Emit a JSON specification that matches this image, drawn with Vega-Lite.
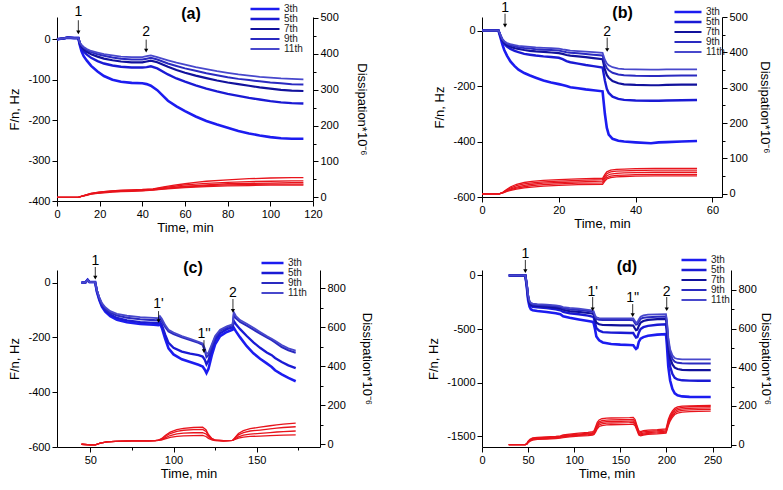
{
"$schema":"https://vega.github.io/schema/vega-lite/v6.json",
"padding":{"left":8,"top":0,"right":6,"bottom":0},
"config":{"view":{"stroke":null},"font":"Liberation Sans",
 "axis":{"grid":false,"domainColor":"#000","tickColor":"#000","labelColor":"#000","titleColor":"#000","labelFontSize":11,"titleFontSize":13,"titleFontWeight":"normal","labelOverlap":false,"labelFlush":false,"labelPadding":2,"domainWidth":1,"tickWidth":1,"labelFont":"Liberation Sans","titleFont":"Liberation Sans"},
 "legend":{"labelFont":"Liberation Sans"}},
"datasets":{
"a_f":[
{"t":0,"3th":0,"5th":0,"7th":0,"9th":0,"11th":0},
{"t":3,"3th":2,"5th":2,"7th":2,"9th":2,"11th":2},
{"t":5,"3th":4,"5th":4,"7th":4,"9th":4,"11th":4},
{"t":8,"3th":3,"5th":3,"7th":3,"9th":3,"11th":3},
{"t":10,"3th":3,"5th":3,"7th":3,"9th":3,"11th":3},
{"t":10.7,"3th":-15,"5th":-12,"7th":-10,"9th":-9,"11th":-8},
{"t":11.5,"3th":-30,"5th":-22,"7th":-18,"9th":-16,"11th":-14},
{"t":12.5,"3th":-42,"5th":-30,"7th":-24,"9th":-21,"11th":-19},
{"t":14,"3th":-53,"5th":-38,"7th":-31,"9th":-27,"11th":-24},
{"t":16,"3th":-66,"5th":-46,"7th":-37,"9th":-32,"11th":-29},
{"t":19,"3th":-80,"5th":-54,"7th":-43,"9th":-37,"11th":-33},
{"t":22,"3th":-91,"5th":-60,"7th":-48,"9th":-41,"11th":-37},
{"t":26,"3th":-100,"5th":-65,"7th":-52,"9th":-45,"11th":-40},
{"t":30,"3th":-105,"5th":-68,"7th":-55,"9th":-48,"11th":-43},
{"t":35,"3th":-108,"5th":-70,"7th":-57,"9th":-50,"11th":-44},
{"t":40,"3th":-109,"5th":-70,"7th":-57,"9th":-50,"11th":-44},
{"t":42,"3th":-111,"5th":-69,"7th":-55,"9th":-48,"11th":-42},
{"t":44,"3th":-115,"5th":-67,"7th":-53,"9th":-46,"11th":-40},
{"t":47,"3th":-126,"5th":-72,"7th":-57,"9th":-50,"11th":-44},
{"t":52,"3th":-152,"5th":-87,"7th":-68,"9th":-60,"11th":-52},
{"t":56,"3th":-166,"5th":-97,"7th":-76,"9th":-66,"11th":-58},
{"t":60,"3th":-178,"5th":-105,"7th":-83,"9th":-72,"11th":-63},
{"t":65,"3th":-191,"5th":-114,"7th":-90,"9th":-78,"11th":-69},
{"t":70,"3th":-202,"5th":-122,"7th":-96,"9th":-84,"11th":-74},
{"t":75,"3th":-211,"5th":-129,"7th":-102,"9th":-89,"11th":-79},
{"t":80,"3th":-219,"5th":-135,"7th":-107,"9th":-94,"11th":-83},
{"t":85,"3th":-227,"5th":-140,"7th":-111,"9th":-98,"11th":-87},
{"t":90,"3th":-233,"5th":-145,"7th":-115,"9th":-101,"11th":-90},
{"t":95,"3th":-238,"5th":-149,"7th":-119,"9th":-104,"11th":-93},
{"t":100,"3th":-242,"5th":-153,"7th":-122,"9th":-107,"11th":-95},
{"t":105,"3th":-245,"5th":-156,"7th":-125,"9th":-109,"11th":-97},
{"t":110,"3th":-246,"5th":-158,"7th":-127,"9th":-111,"11th":-98},
{"t":115.5,"3th":-246,"5th":-159,"7th":-128,"9th":-112,"11th":-99}
],
"a_d":[
{"t":0,"3th":0,"5th":0,"7th":0,"9th":0,"11th":0},
{"t":10,"3th":0,"5th":0,"7th":0,"9th":0,"11th":0},
{"t":11,"3th":2,"5th":2,"7th":2,"9th":2,"11th":2},
{"t":12.5,"3th":5,"5th":5,"7th":4,"9th":4,"11th":4},
{"t":14,"3th":8,"5th":8,"7th":7,"9th":7,"11th":6},
{"t":16,"3th":11,"5th":11,"7th":10,"9th":10,"11th":9},
{"t":19,"3th":14,"5th":14,"7th":13,"9th":12,"11th":11},
{"t":22,"3th":16,"5th":16,"7th":15,"9th":14,"11th":13},
{"t":26,"3th":18,"5th":18,"7th":17,"9th":16,"11th":15},
{"t":30,"3th":20,"5th":19,"7th":18,"9th":17,"11th":16},
{"t":35,"3th":21,"5th":20,"7th":19,"9th":18,"11th":17},
{"t":40,"3th":22,"5th":21,"7th":20,"9th":19,"11th":18},
{"t":45,"3th":24,"5th":23,"7th":22,"9th":21,"11th":20},
{"t":50,"3th":29,"5th":27,"7th":25,"9th":24,"11th":23},
{"t":55,"3th":34,"5th":31,"7th":28,"9th":27,"11th":25},
{"t":60,"3th":38,"5th":35,"7th":31,"9th":29,"11th":27},
{"t":65,"3th":42,"5th":37,"7th":33,"9th":31,"11th":29},
{"t":70,"3th":45,"5th":39,"7th":35,"9th":33,"11th":30},
{"t":80,"3th":49,"5th":42,"7th":38,"9th":35,"11th":32},
{"t":90,"3th":52,"5th":44,"7th":39,"9th":36,"11th":33},
{"t":100,"3th":54,"5th":45,"7th":40,"9th":37,"11th":34},
{"t":110,"3th":55,"5th":46,"7th":41,"9th":37,"11th":34},
{"t":115.5,"3th":55,"5th":46,"7th":41,"9th":37,"11th":34}
],
"b_f":[
{"t":0,"3th":0,"5th":0,"7th":0,"9th":0,"11th":0},
{"t":4.3,"3th":0,"5th":0,"7th":0,"9th":0,"11th":0},
{"t":4.8,"3th":-25,"5th":-20,"7th":-18,"9th":-16,"11th":-15},
{"t":5.3,"3th":-50,"5th":-38,"7th":-35,"9th":-32,"11th":-30},
{"t":5.8,"3th":-70,"5th":-48,"7th":-44,"9th":-41,"11th":-38},
{"t":6.5,"3th":-90,"5th":-58,"7th":-52,"9th":-48,"11th":-45},
{"t":7.4,"3th":-111,"5th":-66,"7th":-58,"9th":-53,"11th":-49},
{"t":8.5,"3th":-128,"5th":-73,"7th":-63,"9th":-57,"11th":-52},
{"t":9.5,"3th":-141,"5th":-78,"7th":-66,"9th":-60,"11th":-55},
{"t":11,"3th":-153,"5th":-84,"7th":-70,"9th":-63,"11th":-57},
{"t":12.5,"3th":-162,"5th":-87,"7th":-73,"9th":-65,"11th":-59},
{"t":14,"3th":-170,"5th":-90,"7th":-75,"9th":-67,"11th":-61},
{"t":16,"3th":-180,"5th":-93,"7th":-77,"9th":-69,"11th":-62},
{"t":18,"3th":-187,"5th":-95,"7th":-79,"9th":-70,"11th":-63},
{"t":20,"3th":-193,"5th":-98,"7th":-81,"9th":-72,"11th":-65},
{"t":21,"3th":-196,"5th":-103,"7th":-84,"9th":-75,"11th":-68},
{"t":22,"3th":-200,"5th":-110,"7th":-88,"9th":-78,"11th":-70},
{"t":23,"3th":-204,"5th":-114,"7th":-90,"9th":-80,"11th":-72},
{"t":25,"3th":-208,"5th":-119,"7th":-93,"9th":-82,"11th":-74},
{"t":27,"3th":-212,"5th":-124,"7th":-96,"9th":-84,"11th":-76},
{"t":29,"3th":-215,"5th":-128,"7th":-99,"9th":-87,"11th":-78},
{"t":31.4,"3th":-219,"5th":-133,"7th":-103,"9th":-90,"11th":-80},
{"t":32,"3th":-300,"5th":-180,"7th":-140,"9th":-120,"11th":-105},
{"t":32.5,"3th":-350,"5th":-210,"7th":-160,"9th":-135,"11th":-118},
{"t":33,"3th":-375,"5th":-225,"7th":-170,"9th":-143,"11th":-125},
{"t":34,"3th":-390,"5th":-238,"7th":-182,"9th":-152,"11th":-132},
{"t":35.5,"3th":-397,"5th":-246,"7th":-190,"9th":-158,"11th":-137},
{"t":37,"3th":-400,"5th":-250,"7th":-194,"9th":-161,"11th":-139},
{"t":40,"3th":-403,"5th":-252,"7th":-196,"9th":-163,"11th":-140},
{"t":44,"3th":-406,"5th":-253,"7th":-197,"9th":-164,"11th":-141},
{"t":46,"3th":-403,"5th":-253,"7th":-197,"9th":-164,"11th":-141},
{"t":48,"3th":-402,"5th":-252,"7th":-196,"9th":-163,"11th":-140},
{"t":52,"3th":-400,"5th":-251,"7th":-195,"9th":-162,"11th":-140},
{"t":56,"3th":-398,"5th":-250,"7th":-195,"9th":-162,"11th":-140}
],
"b_d":[
{"t":0,"3th":0,"5th":0,"7th":0,"9th":0,"11th":0},
{"t":4.5,"3th":0,"5th":0,"7th":0,"9th":0,"11th":0},
{"t":5.5,"3th":5,"5th":4,"7th":4,"9th":3,"11th":3},
{"t":6.5,"3th":13,"5th":11,"7th":9,"9th":8,"11th":7},
{"t":7.5,"3th":20,"5th":17,"7th":14,"9th":12,"11th":10},
{"t":9,"3th":27,"5th":23,"7th":19,"9th":16,"11th":13},
{"t":11,"3th":32,"5th":28,"7th":24,"9th":20,"11th":17},
{"t":13,"3th":35,"5th":31,"7th":27,"9th":23,"11th":19},
{"t":16,"3th":38,"5th":34,"7th":30,"9th":26,"11th":22},
{"t":20,"3th":40,"5th":36,"7th":32,"9th":28,"11th":24},
{"t":25,"3th":42,"5th":38,"7th":34,"9th":30,"11th":26},
{"t":31.4,"3th":44,"5th":40,"7th":36,"9th":31,"11th":27},
{"t":32,"3th":55,"5th":50,"7th":45,"9th":40,"11th":36},
{"t":32.5,"3th":62,"5th":57,"7th":51,"9th":46,"11th":42},
{"t":33.5,"3th":67,"5th":62,"7th":56,"9th":50,"11th":46},
{"t":35,"3th":69,"5th":64,"7th":58,"9th":52,"11th":48},
{"t":37,"3th":70,"5th":65,"7th":59,"9th":53,"11th":49},
{"t":40,"3th":71,"5th":66,"7th":60,"9th":54,"11th":50},
{"t":45,"3th":72,"5th":67,"7th":61,"9th":55,"11th":51},
{"t":56,"3th":72,"5th":67,"7th":61,"9th":55,"11th":51}
],
"c_f":[
{"t":44.7,"3th":0,"5th":0,"9th":0,"11th":0},
{"t":47,"3th":0,"5th":0,"9th":0,"11th":0},
{"t":48.4,"3th":10,"5th":10,"9th":10,"11th":10},
{"t":49.5,"3th":2,"5th":2,"9th":2,"11th":2},
{"t":52.9,"3th":2,"5th":2,"9th":2,"11th":2},
{"t":54,"3th":-34,"5th":-32,"9th":-30,"11th":-28},
{"t":55.5,"3th":-65,"5th":-62,"9th":-58,"11th":-55},
{"t":57,"3th":-88,"5th":-84,"9th":-79,"11th":-75},
{"t":59,"3th":-106,"5th":-101,"9th":-95,"11th":-90},
{"t":62,"3th":-123,"5th":-117,"9th":-110,"11th":-104},
{"t":66,"3th":-136,"5th":-129,"9th":-120,"11th":-114},
{"t":72,"3th":-145,"5th":-138,"9th":-128,"11th":-121},
{"t":80,"3th":-151,"5th":-144,"9th":-134,"11th":-126},
{"t":88,"3th":-154,"5th":-147,"9th":-137,"11th":-129},
{"t":90.9,"3th":-155,"5th":-148,"9th":-138,"11th":-130},
{"t":91.8,"3th":-150,"5th":-142,"9th":-130,"11th":-122},
{"t":93,"3th":-165,"5th":-155,"9th":-140,"11th":-132},
{"t":95,"3th":-205,"5th":-190,"9th":-162,"11th":-155},
{"t":97,"3th":-240,"5th":-220,"9th":-178,"11th":-172},
{"t":100,"3th":-262,"5th":-238,"9th":-188,"11th":-182},
{"t":105,"3th":-280,"5th":-252,"9th":-200,"11th":-195},
{"t":110,"3th":-290,"5th":-259,"9th":-210,"11th":-205},
{"t":115,"3th":-300,"5th":-265,"9th":-220,"11th":-216},
{"t":117.5,"3th":-306,"5th":-270,"9th":-227,"11th":-222},
{"t":118.8,"3th":-318,"5th":-282,"9th":-248,"11th":-240},
{"t":119.8,"3th":-330,"5th":-298,"9th":-272,"11th":-262},
{"t":121,"3th":-315,"5th":-285,"9th":-265,"11th":-255},
{"t":123,"3th":-265,"5th":-245,"9th":-232,"11th":-225},
{"t":125,"3th":-225,"5th":-210,"9th":-200,"11th":-195},
{"t":128,"3th":-195,"5th":-185,"9th":-176,"11th":-172},
{"t":132,"3th":-180,"5th":-170,"9th":-163,"11th":-160},
{"t":135.5,"3th":-172,"5th":-163,"9th":-156,"11th":-152},
{"t":136.2,"3th":-165,"5th":-140,"9th":-118,"11th":-108},
{"t":137.5,"3th":-178,"5th":-152,"9th":-130,"11th":-122},
{"t":140,"3th":-200,"5th":-170,"9th":-143,"11th":-137},
{"t":144,"3th":-232,"5th":-195,"9th":-157,"11th":-150},
{"t":148,"3th":-258,"5th":-218,"9th":-172,"11th":-165},
{"t":152,"3th":-278,"5th":-238,"9th":-186,"11th":-180},
{"t":156,"3th":-295,"5th":-255,"9th":-200,"11th":-195},
{"t":159,"3th":-308,"5th":-265,"9th":-210,"11th":-205},
{"t":161,"3th":-320,"5th":-275,"9th":-218,"11th":-212},
{"t":165,"3th":-335,"5th":-290,"9th":-235,"11th":-228},
{"t":169,"3th":-348,"5th":-302,"9th":-247,"11th":-240},
{"t":173.4,"3th":-360,"5th":-312,"9th":-256,"11th":-248}
],
"c_d":[
{"t":44.7,"3th":0,"5th":0,"9th":0,"11th":0},
{"t":50,"3th":-3,"5th":-3,"9th":-3,"11th":-3},
{"t":53,"3th":-3,"5th":-3,"9th":-3,"11th":-3},
{"t":56,"3th":6,"5th":6,"9th":6,"11th":6},
{"t":60,"3th":12,"5th":12,"9th":12,"11th":12},
{"t":65,"3th":15,"5th":15,"9th":15,"11th":15},
{"t":75,"3th":17,"5th":17,"9th":17,"11th":17},
{"t":85,"3th":18,"5th":18,"9th":18,"11th":18},
{"t":89,"3th":19,"5th":19,"9th":19,"11th":19},
{"t":91,"3th":22,"5th":21,"9th":20,"11th":20},
{"t":93,"3th":30,"5th":27,"9th":24,"11th":22},
{"t":95,"3th":45,"5th":40,"9th":33,"11th":28},
{"t":98,"3th":62,"5th":55,"9th":45,"11th":35},
{"t":102,"3th":75,"5th":66,"9th":53,"11th":40},
{"t":106,"3th":82,"5th":72,"9th":57,"11th":43},
{"t":112,"3th":86,"5th":75,"9th":59,"11th":44},
{"t":117.5,"3th":88,"5th":76,"9th":60,"11th":45},
{"t":119.5,"3th":75,"5th":66,"9th":53,"11th":40},
{"t":121,"3th":50,"5th":45,"9th":38,"11th":30},
{"t":123,"3th":30,"5th":28,"9th":25,"11th":22},
{"t":125,"3th":22,"5th":21,"9th":20,"11th":19},
{"t":130,"3th":18,"5th":18,"9th":18,"11th":18},
{"t":135.5,"3th":20,"5th":20,"9th":20,"11th":20},
{"t":137,"3th":35,"5th":32,"9th":28,"11th":25},
{"t":139,"3th":55,"5th":48,"9th":38,"11th":32},
{"t":142,"3th":70,"5th":60,"9th":47,"11th":37},
{"t":146,"3th":80,"5th":68,"9th":52,"11th":40},
{"t":152,"3th":88,"5th":73,"9th":56,"11th":42},
{"t":158,"3th":95,"5th":79,"9th":60,"11th":44},
{"t":162,"3th":100,"5th":83,"9th":63,"11th":46},
{"t":166,"3th":103,"5th":86,"9th":65,"11th":47},
{"t":173.4,"3th":108,"5th":90,"9th":68,"11th":48}
],
"d_f":[
{"t":29,"3th":0,"5th":0,"7th":0,"9th":0,"11th":0},
{"t":47,"3th":0,"5th":0,"7th":0,"9th":0,"11th":0},
{"t":48.5,"3th":-100,"5th":-90,"7th":-85,"9th":-80,"11th":-75},
{"t":50,"3th":-230,"5th":-210,"7th":-200,"9th":-190,"11th":-180},
{"t":51.5,"3th":-290,"5th":-265,"7th":-255,"9th":-245,"11th":-238},
{"t":53,"3th":-315,"5th":-285,"7th":-272,"9th":-262,"11th":-255},
{"t":55,"3th":-325,"5th":-293,"7th":-280,"9th":-270,"11th":-262},
{"t":60,"3th":-332,"5th":-298,"7th":-285,"9th":-275,"11th":-268},
{"t":70,"3th":-340,"5th":-305,"7th":-292,"9th":-280,"11th":-272},
{"t":80,"3th":-352,"5th":-315,"7th":-300,"9th":-288,"11th":-278},
{"t":85,"3th":-362,"5th":-325,"7th":-308,"9th":-295,"11th":-285},
{"t":88,"3th":-380,"5th":-340,"7th":-320,"9th":-305,"11th":-295},
{"t":95,"3th":-395,"5th":-352,"7th":-332,"9th":-315,"11th":-303},
{"t":105,"3th":-410,"5th":-362,"7th":-340,"9th":-322,"11th":-310},
{"t":115,"3th":-425,"5th":-375,"7th":-350,"9th":-332,"11th":-320},
{"t":119.5,"3th":-432,"5th":-383,"7th":-355,"9th":-337,"11th":-325},
{"t":121,"3th":-440,"5th":-390,"7th":-362,"9th":-345,"11th":-332},
{"t":122.5,"3th":-500,"5th":-440,"7th":-405,"9th":-385,"11th":-370},
{"t":124,"3th":-570,"5th":-490,"7th":-440,"9th":-405,"11th":-392},
{"t":127,"3th":-605,"5th":-515,"7th":-455,"9th":-414,"11th":-398},
{"t":131,"3th":-625,"5th":-528,"7th":-462,"9th":-416,"11th":-400},
{"t":140,"3th":-640,"5th":-533,"7th":-464,"9th":-416,"11th":-400},
{"t":150,"3th":-645,"5th":-535,"7th":-465,"9th":-416,"11th":-400},
{"t":160,"3th":-648,"5th":-536,"7th":-466,"9th":-416,"11th":-400},
{"t":164,"3th":-650,"5th":-537,"7th":-467,"9th":-417,"11th":-401},
{"t":165.5,"3th":-670,"5th":-560,"7th":-490,"9th":-440,"11th":-420},
{"t":167,"3th":-685,"5th":-580,"7th":-510,"9th":-458,"11th":-440},
{"t":168.5,"3th":-675,"5th":-575,"7th":-505,"9th":-455,"11th":-436},
{"t":170,"3th":-620,"5th":-535,"7th":-470,"9th":-430,"11th":-410},
{"t":172,"3th":-590,"5th":-500,"7th":-440,"9th":-405,"11th":-385},
{"t":175,"3th":-575,"5th":-482,"7th":-425,"9th":-395,"11th":-372},
{"t":180,"3th":-562,"5th":-470,"7th":-415,"9th":-390,"11th":-366},
{"t":190,"3th":-552,"5th":-460,"7th":-408,"9th":-386,"11th":-362},
{"t":199.5,"3th":-548,"5th":-456,"7th":-405,"9th":-384,"11th":-360},
{"t":200.5,"3th":-650,"5th":-540,"7th":-480,"9th":-450,"11th":-420},
{"t":202,"3th":-850,"5th":-720,"7th":-650,"9th":-610,"11th":-580},
{"t":204,"3th":-980,"5th":-850,"7th":-770,"9th":-720,"11th":-690},
{"t":206.5,"3th":-1060,"5th":-920,"7th":-830,"9th":-780,"11th":-745},
{"t":209,"3th":-1100,"5th":-955,"7th":-860,"9th":-805,"11th":-770},
{"t":212,"3th":-1118,"5th":-970,"7th":-873,"9th":-815,"11th":-779},
{"t":217,"3th":-1128,"5th":-978,"7th":-880,"9th":-819,"11th":-782},
{"t":225,"3th":-1132,"5th":-981,"7th":-882,"9th":-820,"11th":-783},
{"t":235,"3th":-1133,"5th":-982,"7th":-882,"9th":-820,"11th":-783},
{"t":248,"3th":-1133,"5th":-982,"7th":-882,"9th":-820,"11th":-783}
],
"d_d":[
{"t":29,"3th":0,"5th":0,"7th":0,"9th":0,"11th":0},
{"t":47,"3th":0,"5th":0,"7th":0,"9th":0,"11th":0},
{"t":48.5,"3th":5,"5th":4,"7th":4,"9th":3,"11th":3},
{"t":50,"3th":18,"5th":16,"7th":14,"9th":12,"11th":10},
{"t":52,"3th":28,"5th":25,"7th":22,"9th":20,"11th":18},
{"t":55,"3th":35,"5th":32,"7th":29,"9th":27,"11th":24},
{"t":60,"3th":38,"5th":35,"7th":32,"9th":30,"11th":27},
{"t":70,"3th":40,"5th":37,"7th":34,"9th":32,"11th":29},
{"t":80,"3th":43,"5th":40,"7th":37,"9th":35,"11th":32},
{"t":85,"3th":46,"5th":43,"7th":40,"9th":38,"11th":34},
{"t":88,"3th":50,"5th":46,"7th":43,"9th":40,"11th":36},
{"t":95,"3th":55,"5th":51,"7th":47,"9th":44,"11th":40},
{"t":105,"3th":60,"5th":55,"7th":51,"9th":48,"11th":44},
{"t":115,"3th":64,"5th":59,"7th":55,"9th":51,"11th":47},
{"t":120,"3th":68,"5th":62,"7th":58,"9th":54,"11th":50},
{"t":121.5,"3th":72,"5th":66,"7th":62,"9th":57,"11th":53},
{"t":123,"3th":90,"5th":82,"7th":76,"9th":70,"11th":64},
{"t":125,"3th":115,"5th":105,"7th":97,"9th":90,"11th":82},
{"t":127,"3th":128,"5th":118,"7th":110,"9th":102,"11th":94},
{"t":130,"3th":134,"5th":124,"7th":116,"9th":108,"11th":99},
{"t":135,"3th":137,"5th":127,"7th":119,"9th":111,"11th":102},
{"t":140,"3th":138,"5th":128,"7th":120,"9th":112,"11th":103},
{"t":150,"3th":139,"5th":129,"7th":121,"9th":113,"11th":104},
{"t":160,"3th":140,"5th":130,"7th":122,"9th":114,"11th":105},
{"t":164,"3th":141,"5th":131,"7th":123,"9th":115,"11th":106},
{"t":166,"3th":130,"5th":121,"7th":113,"9th":106,"11th":98},
{"t":168,"3th":100,"5th":93,"7th":87,"9th":81,"11th":75},
{"t":170,"3th":72,"5th":66,"7th":60,"9th":55,"11th":50},
{"t":172,"3th":68,"5th":62,"7th":56,"9th":51,"11th":46},
{"t":175,"3th":72,"5th":66,"7th":60,"9th":55,"11th":50},
{"t":180,"3th":75,"5th":69,"7th":63,"9th":58,"11th":53},
{"t":190,"3th":78,"5th":72,"7th":66,"9th":61,"11th":56},
{"t":199.5,"3th":82,"5th":76,"7th":70,"9th":65,"11th":60},
{"t":200.5,"3th":100,"5th":92,"7th":86,"9th":80,"11th":74},
{"t":202,"3th":130,"5th":120,"7th":112,"9th":105,"11th":98},
{"t":204,"3th":155,"5th":145,"7th":137,"9th":130,"11th":122},
{"t":206.5,"3th":175,"5th":166,"7th":158,"9th":150,"11th":142},
{"t":209,"3th":188,"5th":180,"7th":172,"9th":164,"11th":156},
{"t":212,"3th":195,"5th":188,"7th":180,"9th":172,"11th":163},
{"t":217,"3th":199,"5th":193,"7th":185,"9th":177,"11th":168},
{"t":225,"3th":201,"5th":196,"7th":188,"9th":180,"11th":171},
{"t":235,"3th":202,"5th":197,"7th":189,"9th":181,"11th":172},
{"t":248,"3th":203,"5th":198,"7th":190,"9th":182,"11th":173}
],
"ann":[
{"p":"a","lab":"1","t":10,"ty":67,"y1":47,"y2":17},
{"p":"a","lab":"2","t":41.8,"ty":17,"y1":-1,"y2":-28},
{"p":"b","lab":"1","t":6,"ty":83,"y1":61,"y2":18},
{"p":"b","lab":"2","t":32.6,"ty":-4,"y1":-25,"y2":-70},
{"p":"c","lab":"1","t":53,"ty":79,"y1":57,"y2":18},
{"p":"c","lab":"1'","t":91,"ty":-78,"y1":-104,"y2":-140},
{"p":"c","lab":"1''","t":118.3,"ty":-188,"y1":-210,"y2":-250},
{"p":"c","lab":"2","t":135.7,"ty":-38,"y1":-60,"y2":-103},
{"p":"d","lab":"1","t":47,"ty":201,"y1":145,"y2":40},
{"p":"d","lab":"1'","t":120,"ty":-154,"y1":-201,"y2":-315},
{"p":"d","lab":"1''","t":163.4,"ty":-211,"y1":-267,"y2":-370},
{"p":"d","lab":"2","t":200.3,"ty":-154,"y1":-201,"y2":-315}
],
"lbl":[
{"p":"a","lab":"(a)","t":62.8,"v":62},
{"p":"b","lab":"(b)","t":36.6,"v":63},
{"p":"c","lab":"(c)","t":111.7,"v":53},
{"p":"d","lab":"(d)","t":157.2,"v":79}
]
},
"columns":2,
"spacing":{"row":69,"column":162},
"bounds":"flush",
"resolve":{"scale":{"color":"independent","strokeWidth":"independent"},"legend":{"color":"independent","strokeWidth":"independent"}},
"concat":[
 {"width":256,"height":184,
  "layer":[
   {"layer":[
     {"data":{"name":"a_f"},"transform":[{"fold":["3th","5th","7th","9th","11th"],"as":["h","v"]}],
      "mark":{"type":"line"},
      "encoding":{
       "x":{"field":"t","type":"quantitative","scale":{"domain":[0,120],"nice":false,"zero":false},
            "axis":{"title":"Time, min","titlePadding":2,"values":[0,10,20,30,40,50,60,70,80,90,100,110,120],"labelExpr":"datum.value % 20 === 0 ? '' + datum.value : ''","tickSize":{"condition":{"test":"datum.value % 20 === 0","value":5},"value":3}}},
       "y":{"field":"v","type":"quantitative","scale":{"domain":[-400,55],"nice":false,"zero":false},
            "axis":{"title":"F/n, Hz","titlePadding":6,"values":[-400,-350,-300,-250,-200,-150,-100,-50,0,50],"labelExpr":"datum.value % 100 === 0 ? '' + datum.value : ''","tickSize":{"condition":{"test":"datum.value % 100 === 0","value":5},"value":3}}},
       "color":{"field":"h","type":"ordinal","scale":{"domain":["3th","5th","7th","9th","11th"],"range":["#1c1cf0","#1a1ad4","#11119c","#2a2ac0","#4848cc"]},
            "legend":{"orient":"none","legendX":192,"legendY":-13,"title":null,"symbolType":"stroke","symbolSize":841,"labelFontSize":10,"labelColor":"#222","clipHeight":10,"rowPadding":0,"labelOffset":3,"padding":0}},
       "strokeWidth":{"field":"h","type":"ordinal","scale":{"domain":["3th","5th","7th","9th","11th"],"range":[2.6,1.8,1.5,1.2,1]},
            "legend":{"orient":"none","legendX":192,"legendY":-13,"title":null,"symbolType":"stroke","symbolSize":841,"labelFontSize":10,"labelColor":"#222","clipHeight":10,"rowPadding":0,"labelOffset":3,"padding":0}}
      }},
     {"data":{"name":"ann"},"transform":[{"filter":"datum.p === 'a'"}],"mark":{"type":"rule","color":"#000","strokeWidth":0.8},
      "encoding":{"x":{"field":"t","type":"quantitative"},"y":{"field":"y1","type":"quantitative"},"y2":{"field":"y2"}}},
     {"data":{"name":"ann"},"transform":[{"filter":"datum.p === 'a'"}],"mark":{"type":"point","shape":"triangle-down","filled":true,"color":"#000","size":18,"opacity":1},
      "encoding":{"x":{"field":"t","type":"quantitative"},"y":{"field":"y2","type":"quantitative"}}},
     {"data":{"name":"ann"},"transform":[{"filter":"datum.p === 'a'"}],"mark":{"type":"text","fontSize":14,"baseline":"middle","align":"center","color":"#000"},
      "encoding":{"x":{"field":"t","type":"quantitative"},"y":{"field":"ty","type":"quantitative"},"text":{"field":"lab"}}},
     {"data":{"name":"lbl"},"transform":[{"filter":"datum.p === 'a'"}],"mark":{"type":"text","fontSize":16,"fontWeight":"bold","baseline":"middle","align":"center","color":"#000"},
      "encoding":{"x":{"field":"t","type":"quantitative"},"y":{"field":"v","type":"quantitative"},"text":{"field":"lab"}}}
   ]},
   {"data":{"name":"a_d"},"transform":[{"fold":["3th","5th","7th","9th","11th"],"as":["h","v"]}],
    "mark":{"type":"line","color":"#e8141c","strokeWidth":1.3},
    "encoding":{"x":{"field":"t","type":"quantitative"},
     "y":{"field":"v","type":"quantitative","scale":{"domain":[-10,502],"nice":false,"zero":false},
          "axis":{"orient":"right","title":"Dissipation*10⁻⁶","titlePadding":16,"values":[0,50,100,150,200,250,300,350,400,450,500],"labelExpr":"datum.value % 100 === 0 ? '' + datum.value : ''","tickSize":{"condition":{"test":"datum.value % 100 === 0","value":5},"value":3}}},
     "detail":{"field":"h"}}}
  ],
  "resolve":{"scale":{"y":"independent"}}
 },
 {"width":240,"height":180,
  "layer":[
   {"layer":[
     {"data":{"name":"b_f"},"transform":[{"fold":["3th","5th","7th","9th","11th"],"as":["h","v"]}],
      "mark":{"type":"line"},
      "encoding":{
       "x":{"field":"t","type":"quantitative","scale":{"domain":[0,62.5],"nice":false,"zero":false},
            "axis":{"title":"Time,  min","titlePadding":2,"values":[0,5,10,15,20,25,30,35,40,45,50,55,60],"labelExpr":"datum.value % 10 === 0 ? '' + datum.value : ''","tickSize":{"condition":{"test":"datum.value % 10 === 0","value":5},"value":3}}},
       "y":{"field":"v","type":"quantitative","scale":{"domain":[-600,49],"nice":false,"zero":false},
            "axis":{"title":"F/n, Hz","titlePadding":6,"values":[-600,-500,-400,-300,-200,-100,0],"labelExpr":"datum.value % 200 === 0 ? '' + datum.value : ''","tickSize":{"condition":{"test":"datum.value % 200 === 0","value":5},"value":3}}},
       "color":{"field":"h","type":"ordinal","scale":{"domain":["3th","5th","7th","9th","11th"],"range":["#1c1cf0","#1a1ad4","#11119c","#2a2ac0","#4848cc"]},
            "legend":{"orient":"none","legendX":191,"legendY":-10,"title":null,"symbolType":"stroke","symbolSize":729,"labelFontSize":10,"labelColor":"#222","clipHeight":10,"rowPadding":0,"labelOffset":3,"padding":0}},
       "strokeWidth":{"field":"h","type":"ordinal","scale":{"domain":["3th","5th","7th","9th","11th"],"range":[2.6,1.8,1.5,1.2,1]},
            "legend":{"orient":"none","legendX":191,"legendY":-10,"title":null,"symbolType":"stroke","symbolSize":729,"labelFontSize":10,"labelColor":"#222","clipHeight":10,"rowPadding":0,"labelOffset":3,"padding":0}}
      }},
     {"data":{"name":"ann"},"transform":[{"filter":"datum.p === 'b'"}],"mark":{"type":"rule","color":"#000","strokeWidth":0.8},
      "encoding":{"x":{"field":"t","type":"quantitative"},"y":{"field":"y1","type":"quantitative"},"y2":{"field":"y2"}}},
     {"data":{"name":"ann"},"transform":[{"filter":"datum.p === 'b'"}],"mark":{"type":"point","shape":"triangle-down","filled":true,"color":"#000","size":18,"opacity":1},
      "encoding":{"x":{"field":"t","type":"quantitative"},"y":{"field":"y2","type":"quantitative"}}},
     {"data":{"name":"ann"},"transform":[{"filter":"datum.p === 'b'"}],"mark":{"type":"text","fontSize":14,"baseline":"middle","align":"center","color":"#000"},
      "encoding":{"x":{"field":"t","type":"quantitative"},"y":{"field":"ty","type":"quantitative"},"text":{"field":"lab"}}},
     {"data":{"name":"lbl"},"transform":[{"filter":"datum.p === 'b'"}],"mark":{"type":"text","fontSize":16,"fontWeight":"bold","baseline":"middle","align":"center","color":"#000"},
      "encoding":{"x":{"field":"t","type":"quantitative"},"y":{"field":"v","type":"quantitative"},"text":{"field":"lab"}}}
   ]},
   {"data":{"name":"b_d"},"transform":[{"fold":["3th","5th","7th","9th","11th"],"as":["h","v"]}],
    "mark":{"type":"line","color":"#e8141c","strokeWidth":1.3},
    "encoding":{"x":{"field":"t","type":"quantitative"},
     "y":{"field":"v","type":"quantitative","scale":{"domain":[-9,500],"nice":false,"zero":false},
          "axis":{"orient":"right","title":"Dissipation*10⁻⁶","titlePadding":10,"values":[0,50,100,150,200,250,300,350,400,450,500],"labelExpr":"datum.value % 100 === 0 ? '' + datum.value : ''","tickSize":{"condition":{"test":"datum.value % 100 === 0","value":5},"value":3}}},
     "detail":{"field":"h"}}}
  ],
  "resolve":{"scale":{"y":"independent"}}
 },
 {"width":263,"height":177,
  "layer":[
   {"layer":[
     {"data":{"name":"c_f"},"transform":[{"fold":["3th","5th","9th","11th"],"as":["h","v"]}],
      "mark":{"type":"line"},
      "encoding":{
       "x":{"field":"t","type":"quantitative","scale":{"domain":[30,188],"nice":false,"zero":false},
            "axis":{"title":"Time, min","titlePadding":2,"values":[50,75,100,125,150,175],"labelExpr":"datum.value % 50 === 0 ? '' + datum.value : ''","tickSize":{"condition":{"test":"datum.value % 50 === 0","value":5},"value":3}}},
       "y":{"field":"v","type":"quantitative","scale":{"domain":[-600,46],"nice":false,"zero":false},
            "axis":{"title":"F/n, Hz","titlePadding":6,"values":[-600,-500,-400,-300,-200,-100,0],"labelExpr":"datum.value % 200 === 0 ? '' + datum.value : ''","tickSize":{"condition":{"test":"datum.value % 200 === 0","value":5},"value":3}}},
       "color":{"field":"h","type":"ordinal","scale":{"domain":["3th","5th","9th","11th"],"range":["#1c1cf0","#1a1ad4","#2a2ac0","#4848cc"]},
            "legend":{"orient":"none","legendX":203,"legendY":-12,"title":null,"symbolType":"stroke","symbolSize":484,"labelFontSize":10,"labelColor":"#222","clipHeight":10,"rowPadding":0,"labelOffset":3,"padding":0}},
       "strokeWidth":{"field":"h","type":"ordinal","scale":{"domain":["3th","5th","9th","11th"],"range":[2.6,1.8,1.2,1]},
            "legend":{"orient":"none","legendX":203,"legendY":-12,"title":null,"symbolType":"stroke","symbolSize":484,"labelFontSize":10,"labelColor":"#222","clipHeight":10,"rowPadding":0,"labelOffset":3,"padding":0}}
      }},
     {"data":{"name":"ann"},"transform":[{"filter":"datum.p === 'c'"}],"mark":{"type":"rule","color":"#000","strokeWidth":0.8},
      "encoding":{"x":{"field":"t","type":"quantitative"},"y":{"field":"y1","type":"quantitative"},"y2":{"field":"y2"}}},
     {"data":{"name":"ann"},"transform":[{"filter":"datum.p === 'c'"}],"mark":{"type":"point","shape":"triangle-down","filled":true,"color":"#000","size":18,"opacity":1},
      "encoding":{"x":{"field":"t","type":"quantitative"},"y":{"field":"y2","type":"quantitative"}}},
     {"data":{"name":"ann"},"transform":[{"filter":"datum.p === 'c'"}],"mark":{"type":"text","fontSize":14,"baseline":"middle","align":"center","color":"#000"},
      "encoding":{"x":{"field":"t","type":"quantitative"},"y":{"field":"ty","type":"quantitative"},"text":{"field":"lab"}}},
     {"data":{"name":"lbl"},"transform":[{"filter":"datum.p === 'c'"}],"mark":{"type":"text","fontSize":16,"fontWeight":"bold","baseline":"middle","align":"center","color":"#000"},
      "encoding":{"x":{"field":"t","type":"quantitative"},"y":{"field":"v","type":"quantitative"},"text":{"field":"lab"}}}
   ]},
   {"data":{"name":"c_d"},"transform":[{"fold":["3th","5th","9th","11th"],"as":["h","v"]}],
    "mark":{"type":"line","color":"#e8141c","strokeWidth":1.3},
    "encoding":{"x":{"field":"t","type":"quantitative"},
     "y":{"field":"v","type":"quantitative","scale":{"domain":[-14,894],"nice":false,"zero":false},
          "axis":{"orient":"right","title":"Dissipation*10⁻⁶","titlePadding":14,"values":[0,100,200,300,400,500,600,700,800],"labelExpr":"datum.value % 200 === 0 ? '' + datum.value : ''","tickSize":{"condition":{"test":"datum.value % 200 === 0","value":5},"value":3}}},
     "detail":{"field":"h"}}}
  ],
  "resolve":{"scale":{"y":"independent"}}
 },
 {"width":249,"height":177,
  "layer":[
   {"layer":[
     {"data":{"name":"d_f"},"transform":[{"fold":["3th","5th","7th","9th","11th"],"as":["h","v"]}],
      "mark":{"type":"line"},
      "encoding":{
       "x":{"field":"t","type":"quantitative","scale":{"domain":[0,270],"nice":false,"zero":false},
            "axis":{"title":"Time, min","titlePadding":2,"values":[0,25,50,75,100,125,150,175,200,225,250],"labelExpr":"datum.value % 50 === 0 ? '' + datum.value : ''","tickSize":{"condition":{"test":"datum.value % 50 === 0","value":5},"value":3}}},
       "y":{"field":"v","type":"quantitative","scale":{"domain":[-1600,51],"nice":false,"zero":false},
            "axis":{"title":"F/n, Hz","titlePadding":6,"values":[-1500,-1250,-1000,-750,-500,-250,0],"labelExpr":"datum.value % 500 === 0 ? '' + datum.value : ''","tickSize":{"condition":{"test":"datum.value % 500 === 0","value":5},"value":3}}},
       "color":{"field":"h","type":"ordinal","scale":{"domain":["3th","5th","7th","9th","11th"],"range":["#1c1cf0","#1a1ad4","#11119c","#2a2ac0","#4848cc"]},
            "legend":{"orient":"none","legendX":198,"legendY":-15,"title":null,"symbolType":"stroke","symbolSize":625,"labelFontSize":10,"labelColor":"#222","clipHeight":10,"rowPadding":0,"labelOffset":3,"padding":0}},
       "strokeWidth":{"field":"h","type":"ordinal","scale":{"domain":["3th","5th","7th","9th","11th"],"range":[2.6,1.8,1.5,1.2,1]},
            "legend":{"orient":"none","legendX":198,"legendY":-15,"title":null,"symbolType":"stroke","symbolSize":625,"labelFontSize":10,"labelColor":"#222","clipHeight":10,"rowPadding":0,"labelOffset":3,"padding":0}}
      }},
     {"data":{"name":"ann"},"transform":[{"filter":"datum.p === 'd'"}],"mark":{"type":"rule","color":"#000","strokeWidth":0.8},
      "encoding":{"x":{"field":"t","type":"quantitative"},"y":{"field":"y1","type":"quantitative"},"y2":{"field":"y2"}}},
     {"data":{"name":"ann"},"transform":[{"filter":"datum.p === 'd'"}],"mark":{"type":"point","shape":"triangle-down","filled":true,"color":"#000","size":18,"opacity":1},
      "encoding":{"x":{"field":"t","type":"quantitative"},"y":{"field":"y2","type":"quantitative"}}},
     {"data":{"name":"ann"},"transform":[{"filter":"datum.p === 'd'"}],"mark":{"type":"text","fontSize":14,"baseline":"middle","align":"center","color":"#000"},
      "encoding":{"x":{"field":"t","type":"quantitative"},"y":{"field":"ty","type":"quantitative"},"text":{"field":"lab"}}},
     {"data":{"name":"lbl"},"transform":[{"filter":"datum.p === 'd'"}],"mark":{"type":"text","fontSize":16,"fontWeight":"bold","baseline":"middle","align":"center","color":"#000"},
      "encoding":{"x":{"field":"t","type":"quantitative"},"y":{"field":"v","type":"quantitative"},"text":{"field":"lab"}}}
   ]},
   {"data":{"name":"d_d"},"transform":[{"fold":["3th","5th","7th","9th","11th"],"as":["h","v"]}],
    "mark":{"type":"line","color":"#e8141c","strokeWidth":1.3},
    "encoding":{"x":{"field":"t","type":"quantitative"},
     "y":{"field":"v","type":"quantitative","scale":{"domain":[-12,903],"nice":false,"zero":false},
          "axis":{"orient":"right","title":"Dissipation*10⁻⁶","titlePadding":2,"values":[0,100,200,300,400,500,600,700,800],"labelExpr":"datum.value % 200 === 0 ? '' + datum.value : ''","tickSize":{"condition":{"test":"datum.value % 200 === 0","value":5},"value":3}}},
     "detail":{"field":"h"}}}
  ],
  "resolve":{"scale":{"y":"independent"}}
 }
]
}
